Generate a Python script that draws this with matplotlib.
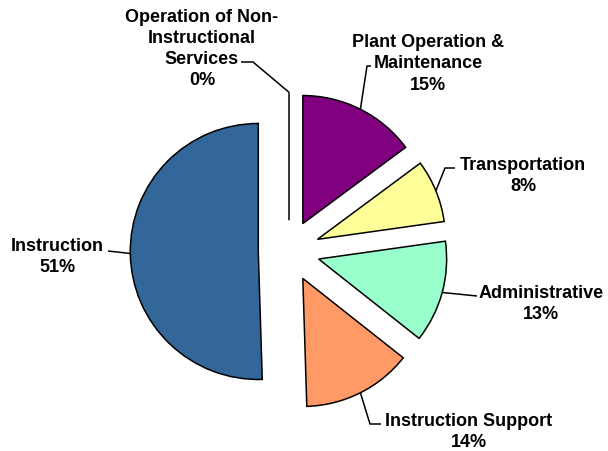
import numpy as np
import matplotlib
matplotlib.use("Agg")
import matplotlib.pyplot as plt

categories = ["Plant Operation &\nMaintenance", "Transportation", "Administrative",
              "Instruction Support", "Instruction", "Operation of Non-\nInstructional\nServices"]
values = [15, 8, 13, 14, 51, 0]
colors = ["#800080", "#FFFF99", "#99FFCC", "#FF9966", "#336699", "#FFFFFF"]

W, H = 608, 451
fig = plt.figure(figsize=(W / 100, H / 100), dpi=100)
ax = fig.add_axes([0, 0, 1, 1])
cx, cy, R = 289, 251, 128

wedges, _ = ax.pie(values, colors=colors, startangle=90, counterclock=False,
                   explode=[0.24] * len(values), radius=1,
                   wedgeprops=dict(edgecolor="black", linewidth=1.1), frame=False)
ax.set_xlim(-cx / R, (W - cx) / R)
ax.set_ylim(-(H - cy) / R, cy / R)
ax.set_aspect("equal")
ax.axis("off")


def px(x, y):
    return ((x - cx) / R, (cy - y) / R)


# label centres and leader elbows (pixel layout)
label_pos = [(428, 64), (523, 176), (541, 304), (469, 432), (57, 257), (202, 49)]
leaders = [
    [(367, 66), (371, 66)],
    [(445, 168), (455, 168)],
    [(477, 296)],
    [(370, 424), (381, 424)],
    [(108, 251)],
    [(253, 62), (241, 62)],
]

font = dict(family=["Liberation Sans", "DejaVu Sans"], weight="bold", size=13)
for w, cat, val, lp, ld in zip(wedges, categories, values, label_pos, leaders):
    ang = np.deg2rad((w.theta1 + w.theta2) / 2)
    x0 = w.center[0] + w.r * np.cos(ang)
    y0 = w.center[1] + w.r * np.sin(ang)
    pts = [(x0, y0)] + [px(*p) for p in ld]
    xs, ys = zip(*pts)
    ax.plot(xs, ys, color="black", linewidth=1.1, solid_capstyle="butt")
    tx, ty = px(*lp)
    ax.text(tx, ty, f"{cat}\n{val}%", ha="center", va="center",
            multialignment="center", linespacing=1.32, **font)

fig.savefig("out.png", dpi=100, facecolor="white")
